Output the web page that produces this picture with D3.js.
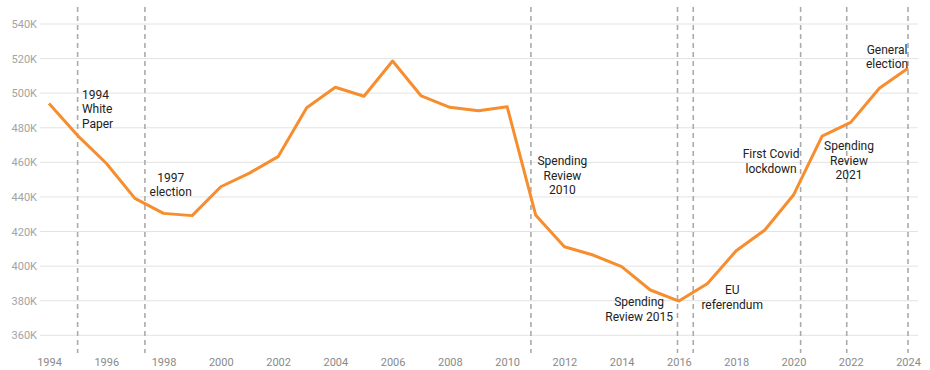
<!DOCTYPE html>
<html><head><meta charset="utf-8">
<script src="https://cdn.jsdelivr.net/npm/d3@7"></script>
<style>
html,body{margin:0;padding:0;background:#fff;}
text{font-family:Roboto,"Noto Sans",sans-serif;}
</style></head>
<body><svg id="c" width="930" height="370"></svg>
<script>
const years = [1994,1995,1996,1997,1998,1999,2000,2001,2002,2003,2004,2005,2006,2007,2008,2009,2010,2011,2012,2013,2014,2015,2016,2017,2018,2019,2020,2021,2022,2023,2024];
const values = [494.1,475.5,459.5,439.2,430.5,429.2,445.9,453.8,463.3,491.6,503.4,498.2,518.6,498.4,491.8,489.9,492.2,429.4,411.2,406.4,399.7,386.2,379.8,390.0,408.9,420.9,441.1,475.2,483.1,502.8,514.4];
const yTicks = [360,380,400,420,440,460,480,500,520,540];
const xTicks = [1994,1996,1998,2000,2002,2004,2006,2008,2010,2012,2014,2016,2018,2020,2022,2024];
const eventDates = [1995.0,1997.35,2010.83,2015.95,2016.5,2020.25,2021.86,2024.0];
const eventLabels = [
  ["1994","White","Paper"],
  ["1997","election"],
  ["Spending","Review","2010"],
  ["Spending","Review 2015"],
  ["EU","referendum"],
  ["First Covid","lockdown"],
  ["Spending","Review","2021"],
  ["General","election"]
];
// label anchor positions in data units (year, value) for the first line's baseline
const labelAt = [
  [1995.15, 496.7, "start"],
  [1998.25, 448.9, "middle"],
  [2011.93, 458.2, "middle"],
  [2014.61, 376.8, "middle"],
  [2017.86, 383.8, "middle"],
  [2019.22, 462.4, "middle"],
  [2021.94, 467.0, "middle"],
  [2023.27, 522.9, "middle"]
];

const svg = d3.select("#c");
const x = d3.scaleLinear().domain([1994,2024]).range([49,908]);
const y = d3.scaleLinear().domain([350,550]).range([352.6,6.7]);

// gridlines
svg.append("g").selectAll("line").data(yTicks).join("line")
  .attr("x1",40).attr("x2",918)
  .attr("y1",d=>y(d)).attr("y2",d=>y(d))
  .attr("stroke","#e3e3e3").attr("stroke-width",1);

// y axis labels
const yAxis = d3.axisLeft(y).tickValues(yTicks).tickSize(0).tickPadding(0).tickFormat(d=>d+"K");
const gy = svg.append("g").attr("transform","translate(37,0)").call(yAxis);
gy.select(".domain").remove();
gy.selectAll("text").attr("fill","#a3a3a3").style("font-size","11px").style("font-family","Roboto");

// x axis labels
const xAxis = d3.axisBottom(x).tickValues(xTicks).tickSize(0).tickPadding(0).tickFormat(d3.format("d"));
const gx = svg.append("g").attr("transform","translate(0,358)").call(xAxis);
gx.select(".domain").remove();
gx.selectAll("text").attr("fill","#8a8a8a").style("font-size","11px").style("font-family","Roboto");

// event lines
svg.append("g").selectAll("line").data(eventDates).join("line")
  .attr("x1",d=>x(d)).attr("x2",d=>x(d))
  .attr("y1",7).attr("y2",353)
  .attr("stroke","#ababab").attr("stroke-width",1.6)
  .attr("stroke-dasharray","5,4");

// data line
const line = d3.line().x((d,i)=>x(years[i])).y(d=>y(d));
svg.append("path").datum(values)
  .attr("d",line).attr("fill","none")
  .attr("stroke","#F68D2E").attr("stroke-width",3)
  .attr("stroke-linejoin","round");

// event labels
const lg = svg.append("g");
eventLabels.forEach((lines,i)=>{
  const [lx,ly,anchor] = labelAt[i];
  const t = lg.append("text")
    .attr("x",x(lx)).attr("y",y(ly))
    .attr("text-anchor",anchor)
    .attr("fill","#222")
    .style("font-size","12px");
  lines.forEach((s,j)=>{
    t.append("tspan").attr("x",x(lx)).attr("dy",j===0?0:14.5).text(s);
  });
});
</script>
</body></html>
